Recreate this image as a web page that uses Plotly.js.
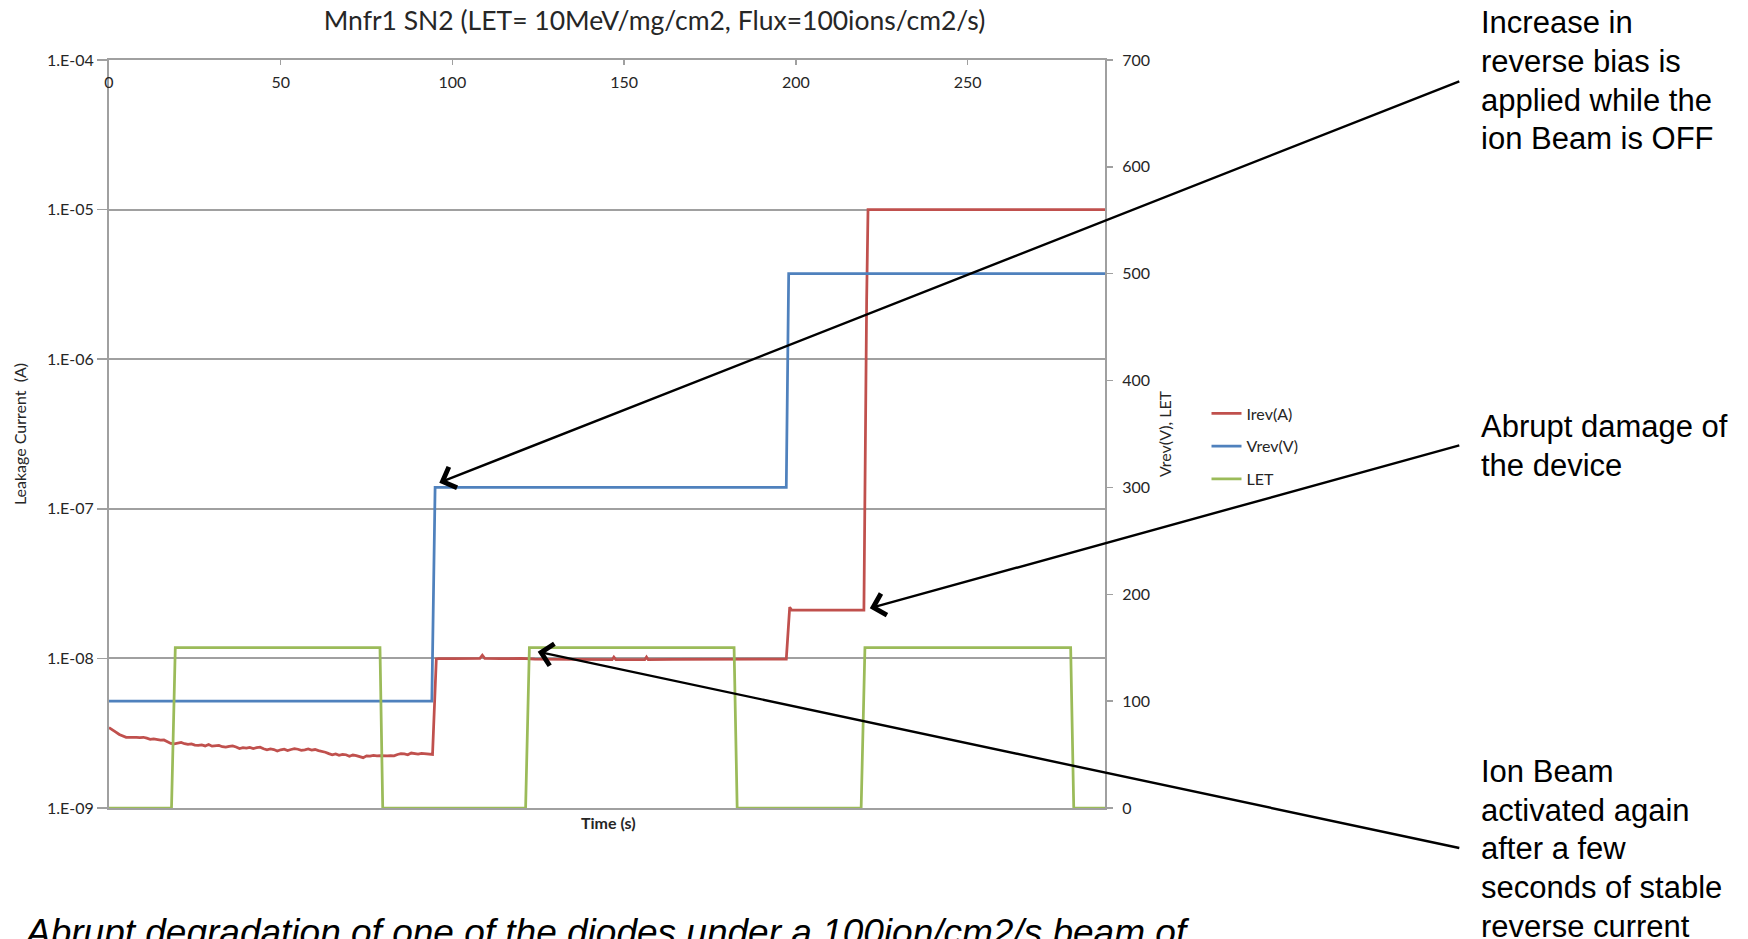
<!DOCTYPE html>
<html>
<head>
<meta charset="utf-8">
<script src="https://cdn.plot.ly/plotly-3.0.1.min.js"></script>
<style>
html,body{margin:0;padding:0;background:#fff;overflow:hidden}
#chart{width:1748px;height:939px}
</style>
</head>
<body>
<div id="chart"></div>
<script>
// ---------- data ----------
const timeTicks = [0, 50, 100, 150, 200, 250];
const currentTickVals = [1e-9, 1e-8, 1e-7, 1e-6, 1e-5, 1e-4];
const currentTickText = ['1.E-09', '1.E-08', '1.E-07', '1.E-06', '1.E-05', '1.E-04'];
const voltTickVals = [0, 100, 200, 300, 400, 500, 600, 700];

const irevTime = [0,1,2,3,4,5,6,7,8,9,10,11,12,13,14,15,16,17,18,19,20,21,22,23,24,25,26,27,28,29,
  30,31,32,33,34,35,36,37,38,39,40,41,42,43,44,45,46,47,48,49,50,51,52,53,54,55,56,57,58,59,
  60,61,62,63,64,65,66,67,68,69,70,71,72,73,74,75,76,77,78,79,80,81,82,83,84,85,86,87,88,89,
  90,91,92,93,94.2,95.3,96,100,104,108,108.7,109.4,114,120,124,130,136,142,146.5,147,147.6,
  152,156,156.5,157,164,172,180,188,197.2,198.2,198.8,204,210,216,219.8,220.6,221.0,290];
const irevAmps = [3.45e-9,3.35e-9,3.22e-9,3.10e-9,3.02e-9,2.97e-9,2.96e-9,2.97e-9,2.96e-9,2.95e-9,
  2.97e-9,2.93e-9,2.88e-9,2.90e-9,2.86e-9,2.84e-9,2.85e-9,2.78e-9,2.70e-9,2.68e-9,
  2.72e-9,2.74e-9,2.69e-9,2.66e-9,2.68e-9,2.63e-9,2.62e-9,2.64e-9,2.60e-9,2.66e-9,
  2.59e-9,2.61e-9,2.62e-9,2.57e-9,2.55e-9,2.58e-9,2.60e-9,2.56e-9,2.50e-9,2.53e-9,
  2.51e-9,2.54e-9,2.50e-9,2.53e-9,2.55e-9,2.49e-9,2.45e-9,2.48e-9,2.46e-9,2.40e-9,
  2.45e-9,2.47e-9,2.42e-9,2.46e-9,2.49e-9,2.47e-9,2.43e-9,2.45e-9,2.48e-9,2.44e-9,
  2.46e-9,2.42e-9,2.40e-9,2.36e-9,2.31e-9,2.27e-9,2.30e-9,2.25e-9,2.28e-9,2.27e-9,
  2.22e-9,2.26e-9,2.24e-9,2.20e-9,2.17e-9,2.23e-9,2.22e-9,2.25e-9,2.23e-9,2.24e-9,
  2.23e-9,2.23e-9,2.24e-9,2.23e-9,2.28e-9,2.31e-9,2.30e-9,2.27e-9,2.33e-9,2.30e-9,
  2.29e-9,2.32e-9,2.30e-9,2.28e-9,2.28e-9,9.9e-9,9.95e-9,9.95e-9,1.0e-8,1.0e-8,1.05e-8,1.0e-8,
  9.95e-9,1.0e-8,9.9e-9,9.85e-9,9.8e-9,9.8e-9,9.8e-9,1.02e-8,9.8e-9,
  9.8e-9,9.8e-9,1.02e-8,9.8e-9,9.85e-9,9.85e-9,9.85e-9,9.9e-9,9.9e-9,2.2e-8,2.1e-8,2.1e-8,2.1e-8,2.1e-8,
  2.1e-8,2.5e-6,1.0e-5,1.0e-5];

const vrevTime = [0, 94.0, 94.95, 197.2, 197.9, 290];
const vrevVolts = [100, 100, 300, 300, 500, 500];

const letTime = [0, 18.2, 19.3, 78.9, 79.7, 121.3, 122.4, 182.0, 182.9, 219.0, 220.1, 280.0, 280.9, 290];
const letValues = [0, 0, 150, 150, 0, 0, 150, 150, 0, 0, 150, 150, 0, 0];

// ---------- layout helpers ----------
const W = 1748, H = 939, L = 109, R = 1105, T = 60, B = 808;
const px = X => (X - L) / (R - L);
const py = Y => (B - Y) / (B - T);
const GRAY = '#a0a0a0';
const TXT = '#262626';
const SANS = 'Lato, "Open Sans", sans-serif';
const ARIAL = '"Liberation Sans", Arial, Helvetica, sans-serif';

const traces = [
  {x: irevTime, y: irevAmps, name: 'Irev(A)', type: 'scatter', mode: 'lines', yaxis: 'y',
   line: {color: '#c0504d', width: 2.75}, legendgroup: 'a'},
  {x: vrevTime, y: vrevVolts, name: 'Vrev(V)', type: 'scatter', mode: 'lines', yaxis: 'y2',
   line: {color: '#4f81bd', width: 2.75}, legendgroup: 'b'},
  {x: letTime, y: letValues, name: 'LET', type: 'scatter', mode: 'lines', yaxis: 'y2',
   line: {color: '#9bbb59', width: 2.75}, legendgroup: 'c'}
];

const arrow = (hx, hy, tx, ty) => ({
  xref: 'paper', yref: 'paper', x: px(hx), y: py(hy),
  axref: 'pixel', ayref: 'pixel', ax: tx - hx, ay: ty - hy,
  text: '', showarrow: true, arrowhead: 4, arrowsize: 1.8, arrowwidth: 2.4, arrowcolor: '#000'
});
// one annotation per text line, so the line spacing can follow the reference
const NOTE_SIZE = 31, NOTE_STEP = 38.8;
const noteLines = (X, firstBaseline, lines) => lines.map((t, i) => ({
  xref: 'paper', yref: 'paper', x: px(X), y: py(firstBaseline + i * NOTE_STEP - 30),
  xanchor: 'left', yanchor: 'top', align: 'left', showarrow: false, text: t,
  font: {family: ARIAL, size: NOTE_SIZE, color: '#000'}
}));

const layout = {
  width: W, height: H,
  margin: {l: L, r: W - R, t: T, b: H - B, pad: 0},
  paper_bgcolor: '#fff', plot_bgcolor: '#fff',
  font: {family: SANS, size: 16, color: TXT},
  title: {text: 'Mnfr1 SN2 (LET= 10MeV/mg/cm2, Flux=100ions/cm2/s)',
          font: {family: SANS, size: 26.5, color: TXT},
          xref: 'container', x: 654.5 / W, xanchor: 'center',
          yref: 'container', y: 1 - 21 / H, yanchor: 'middle'},
  xaxis: {range: [0, 290], side: 'top', tickvals: timeTicks, ticks: 'inside', ticklen: 5,
          tickwidth: 1.5, tickcolor: GRAY, showline: true, linecolor: GRAY, linewidth: 2,
          mirror: true, showgrid: false, zeroline: false, ticklabelposition: 'outside',
          ticklabelstandoff: -36, tickfont: {size: 16, color: TXT}, layer: 'below traces'},
  yaxis: {type: 'log', range: [-9, -4], tickvals: currentTickVals, ticktext: currentTickText,
          ticks: 'outside', ticklen: 10, tickwidth: 1.5, tickcolor: GRAY, showline: true,
          linecolor: GRAY, linewidth: 2, showgrid: true, gridcolor: GRAY, gridwidth: 2,
          zeroline: false, tickfont: {size: 16, color: TXT}, layer: 'below traces',
          title: {text: 'Leakage Current  (A)', font: {size: 16, color: TXT}, standoff: 16}},
  yaxis2: {overlaying: 'y', side: 'right', range: [0, 700], tickvals: voltTickVals,
           ticks: 'outside', ticklen: 6, tickwidth: 1.5, tickcolor: GRAY, showline: true,
           linecolor: GRAY, linewidth: 2, showgrid: false, zeroline: false,
           tickfont: {size: 16, color: TXT}, ticklabelstandoff: 6, layer: 'below traces',
           title: {text: 'Vrev(V), LET', font: {size: 16, color: TXT}, standoff: 11}},
  showlegend: true,
  legend: {x: px(1206.5), xanchor: 'left', y: py(396.4), yanchor: 'top',
           font: {family: SANS, size: 16, color: TXT}, bgcolor: 'rgba(0,0,0,0)', borderwidth: 0,
           traceorder: 'grouped', tracegroupgap: 9},
  annotations: [
    {xref: 'paper', yref: 'paper', x: px(608), y: py(822.7), xanchor: 'center', yanchor: 'middle',
     showarrow: false, text: '<b>Time (s)</b>', font: {family: SANS, size: 16, color: TXT}},
    arrow(439.3, 482.7, 1460.8, 80.7),
    arrow(869.8, 608.3, 1460.8, 445),
    arrow(537.7, 651.7, 1460.8, 848.3),
    ...noteLines(1479, 33, ['Increase in', 'reverse bias is', 'applied while the', 'ion Beam is OFF']),
    ...noteLines(1479, 436.7, ['Abrupt damage of', 'the device']),
    ...noteLines(1479, 781.7, ['Ion Beam', 'activated again', 'after a few', 'seconds of stable', 'reverse current']),
    {xref: 'paper', yref: 'paper', x: px(22), y: py(910), xanchor: 'left', yanchor: 'top',
     showarrow: false, align: 'left',
     text: '<i>Abrupt degradation of one of the diodes under a 100ion/cm2/s beam of</i>',
     font: {family: ARIAL, size: 37, color: '#000'}}
  ]
};

Plotly.newPlot('chart', traces, layout, {displayModeBar: false, staticPlot: true});
</script>
</body>
</html>
